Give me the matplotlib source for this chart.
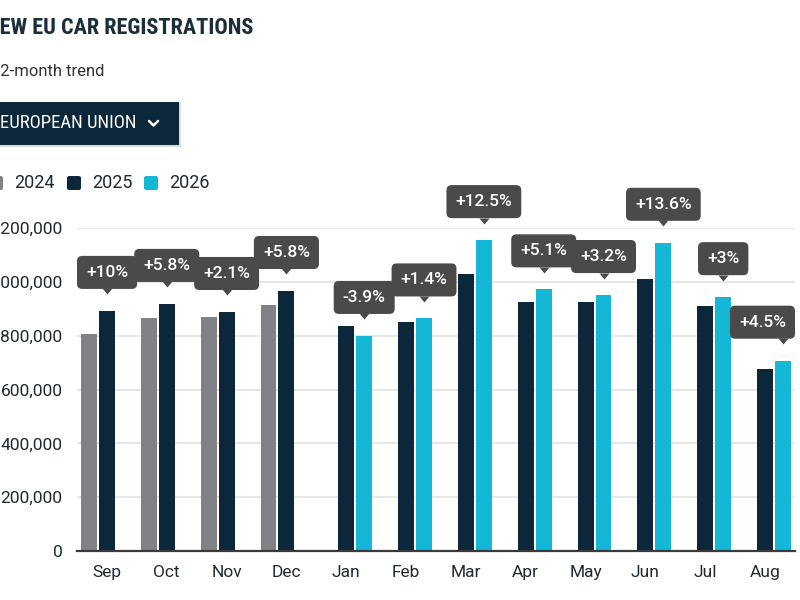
import matplotlib
matplotlib.use('Agg')
import matplotlib.pyplot as plt
from matplotlib import font_manager
from matplotlib.patches import FancyBboxPatch
from matplotlib.lines import Line2D
from matplotlib.transforms import offset_copy
import numpy as np

# data
months = ["Sep", "Oct", "Nov", "Dec", "Jan", "Feb", "Mar", "Apr", "May", "Jun", "Jul", "Aug"]
reg_2024 = [806000, 866000, 869000, 914000, None, None, None, None, None, None, None, None]
reg_2025 = [892000, 918000, 888000, 966000, 836000, 852000, 1029000, 926000, 926000, 1009000, 910000, 675000]
reg_2026 = [None, None, None, None, 799000, 864000, 1155000, 972000, 951000, 1145000, 943000, 707000]
change_labels = ["+10%", "+5.8%", "+2.1%", "+5.8%", "-3.9%", "+1.4%", "+12.5%", "+5.1%", "+3.2%", "+13.6%", "+3%", "+4.5%"]
y_ticks = [0, 200000, 400000, 600000, 800000, 1000000, 1200000]

GREY = "#808285"
NAVY = "#0b2739"
CYAN = "#14b8d6"
BOX = "#4a4a4a"


def pick_font(names):
    for n in names:
        try:
            font_manager.findfont(n, fallback_to_default=False)
            return n
        except Exception:
            continue
    return "DejaVu Sans"


narrow = pick_font(["Roboto Condensed", "Liberation Sans Narrow", "Roboto"])
regular = pick_font(["Roboto", "DejaVu Sans"])
plt.rcParams['font.family'] = [regular, "DejaVu Sans"]

W, H = 800, 600
fig = plt.figure(figsize=(8, 6), dpi=100)


def fx(px):
    return px / W


def fy(py):
    return 1 - py / H


ax = fig.add_axes([fx(77), fy(551), fx(795) - fx(77), fy(228) - fy(551)])

x = np.arange(len(months))
slot = 0.3
bw = 0.265
v24 = np.array([np.nan if v is None else v for v in reg_2024], dtype=float)
v25 = np.array(reg_2025, dtype=float)
v26 = np.array([np.nan if v is None else v for v in reg_2026], dtype=float)

ax.bar(x - slot, v24, bw, color=GREY, zorder=3)
ax.bar(x, v25, bw, color=NAVY, zorder=3)
ax.bar(x + slot, v26, bw, color=CYAN, zorder=3)

ax.set_xlim(-0.5, len(months) - 0.5)
ax.set_ylim(0, 1200000)
ax.set_yticks(y_ticks)
ax.set_yticklabels([f"{t:,}" for t in y_ticks])
ax.set_xticks(x)
ax.set_xticklabels(months)
ax.tick_params(axis='both', length=0, labelsize=12.5, colors="#1e2a33")
ax.tick_params(axis='y', pad=10.5)
ax.tick_params(axis='x', pad=10)
ax.grid(axis='y', color="#e3e3e3", lw=1.2, zorder=0)
for s in ["top", "right", "left"]:
    ax.spines[s].set_visible(False)
ax.spines["bottom"].set_color("#3a3a3a")
ax.spines["bottom"].set_linewidth(1.6)
ax.spines["bottom"].set_zorder(4)

# change labels sit above the latest year's bar
px2pt = 72 / 100
ptr = [(-5, 0), (5, 0), (0, -6)]
anns = []
for i, lab in enumerate(change_labels):
    if np.isnan(v26[i]):
        bx, top = x[i], v25[i]
    else:
        bx, top = x[i] + slot, v26[i]
    a = ax.annotate(lab, xy=(bx, top), xytext=(0, 31 * px2pt), textcoords='offset points',
                    ha='center', va='bottom', color='white', fontsize=12.5, fontweight='medium',
                    bbox=dict(boxstyle='round,pad=0.52,rounding_size=0.3', fc=BOX, ec='none'),
                    zorder=6, annotation_clip=False)
    anns.append(a)
    tr = offset_copy(ax.transData, fig=fig, y=22.5 * px2pt, units='points')
    ax.plot([bx], [top], marker=ptr, ms=12 * px2pt, color=BOX, mec='none',
            transform=tr, clip_on=False, zorder=6)

# keep label boxes inside the plot area horizontally
fig.canvas.draw()
ax_ext = ax.get_window_extent()
for a in anns:
    bb = a.get_bbox_patch().get_window_extent()
    dx = 0
    if bb.x1 > ax_ext.x1:
        dx = ax_ext.x1 - bb.x1
    elif bb.x0 < ax_ext.x0:
        dx = ax_ext.x0 - bb.x0
    if dx:
        a.xyann = (dx * px2pt, a.xyann[1])

# header, cropped at the left edge like the reference
fig.text(fx(-14), fy(28.5), "NEW EU CAR REGISTRATIONS", fontsize=16, fontweight='bold',
         color="#1b2e3c", va='center', ha='left', family=[narrow, "DejaVu Sans"])
fig.text(fx(-9), fy(72), "12-month trend", fontsize=12, color="#333333", va='center', ha='left')

# region dropdown
fig.patches.append(FancyBboxPatch((fx(-10), fy(147)), fx(191), fy(102) - fy(147),
                                  boxstyle='square,pad=0', fc="#dcdcdc", ec='none',
                                  transform=fig.transFigure, zorder=1))
fig.patches.append(FancyBboxPatch((fx(-10), fy(145)), fx(189), fy(102) - fy(145),
                                  boxstyle='square,pad=0', fc=NAVY, ec='none',
                                  transform=fig.transFigure, zorder=2))
fig.text(fx(0), fy(123.5), "EUROPEAN UNION", fontsize=13.5, color='white', va='center',
         ha='left', family=[narrow, "DejaVu Sans"], zorder=3)
fig.add_artist(Line2D([fx(149), fx(153.5), fx(158)], [fy(121), fy(125.5), fy(121)],
                      color='white', lw=1.8, solid_capstyle='round',
                      solid_joinstyle='round', zorder=3))

# legend
for lx, col, yr in [(-11, GREY, "2024"), (67, NAVY, "2025"), (144, CYAN, "2026")]:
    fig.patches.append(FancyBboxPatch((fx(lx), fy(190)), fx(14), fy(176) - fy(190),
                                      boxstyle='round,pad=0,rounding_size=0.003',
                                      fc=col, ec='none', transform=fig.transFigure))
    fig.text(fx(lx + 25), fy(183), yr, fontsize=13, color="#1e2a33", va='center', ha='left')

fig.savefig("out.png", dpi=100)
